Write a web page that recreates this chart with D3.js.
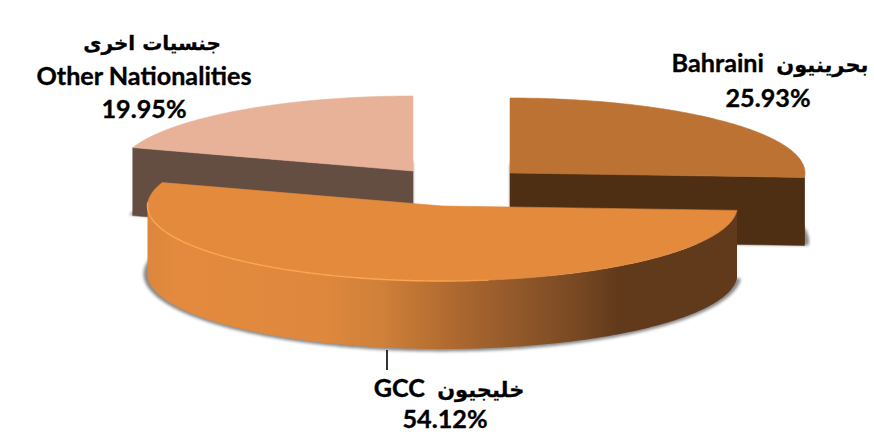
<!DOCTYPE html>
<html><head><meta charset="utf-8">
<style>html,body{margin:0;padding:0;background:#fff}svg{display:block}
text{font-weight:700;fill:#000;text-anchor:middle}
.lat{font-family:Lato,"Open Sans",sans-serif;font-size:25.2px;stroke:#000;stroke-width:0.35px}
.ar{font-family:"DejaVu Sans",sans-serif;font-size:21px;stroke:#000;stroke-width:0.3px}
.ar2{font-family:"DejaVu Sans",sans-serif;font-size:20px;stroke:#000;stroke-width:0.3px}
</style>
<script src="https://cdn.jsdelivr.net/npm/d3@7/dist/d3.min.js"></script>
</head><body><svg id="c" width="874" height="434"></svg>
<script>
const categories = ["Bahraini","GCC","Other Nationalities"];
const arabicNames = ["بحرينيون","خليجيون","جنسيات اخرى"];
const shares = [25.93,54.12,19.95];
const percentLabels = ["25.93%","54.12%","19.95%"];
const topColors = ["#BC7232","#E38A3E","#E8B299"];
const wallColors = ["#4F2F14","url(#gccWall)","#644E42"];

// layout
const W=874,H=434, RX=295, RY=75, DEPTH=68;
const centers=[[510,173],[442.5,206],[413,171]];
const drawOrder=[2,0,1];
const svg=d3.select("#c");
const defs=svg.append("defs");
defs.append("filter").attr("id","soft").attr("x","-5%").attr("y","-5%").attr("width","110%").attr("height","110%")
  .append("feGaussianBlur").attr("stdDeviation",1.6);
defs.append("filter").attr("id","edge").attr("x","-2%").attr("y","-2%").attr("width","104%").attr("height","104%")
  .append("feGaussianBlur").attr("stdDeviation",0.5);

const sx=d3.scaleLinear().domain([-1,1]);
const sy=d3.scaleLinear().domain([-1,1]);
function project(c,a,dz,grow){
  const gx=grow||0, gy=(grow||0)*0.6;
  sx.range([c[0]-RX-gx,c[0]+RX+gx]);
  sy.range([c[1]-RY-gy,c[1]+RY+gy]);
  return [sx(Math.sin(a)),sy(-Math.cos(a))+dz];
}
function arcPts(c,a0,a1,dz,grow){
  const n=Math.max(2,Math.ceil(Math.abs(a1-a0)/0.01));
  return d3.range(n+1).map(i=>project(c,a0+(a1-a0)*i/n,dz,grow));
}
const line=d3.line();
const pie=d3.pie().sort(null).value(d=>d)(shares);
const HALF=Math.PI/2, PI=Math.PI;

const g=defs.append("linearGradient").attr("id","gccWall").attr("gradientUnits","userSpaceOnUse")
  .attr("x1",147).attr("x2",737).attr("y1",0).attr("y2",0);
[[0,"#DB873D"],[0.05,"#E38A3E"],[0.3,"#DF883D"],[0.4,"#CF8039"],[0.47,"#BC7233"],[0.53,"#AB672F"],[0.65,"#8C5529"],[0.73,"#774822"],[0.8,"#613A1B"],[1,"#613A1B"]]
 .forEach(s=>g.append("stop").attr("offset",s[0]).attr("stop-color",s[1]));
const hl=defs.append("linearGradient").attr("id","gccRim").attr("gradientUnits","userSpaceOnUse")
  .attr("x1",147).attr("x2",560).attr("y1",0).attr("y2",0);
[[0,"#FCA651"],[0.65,"#FCA651"],[1,"#E38A3E"]].forEach(s=>hl.append("stop").attr("offset",s[0]).attr("stop-color",s[1]));

drawOrder.forEach(i=>{
  const p=pie[i], c=centers[i], a0=p.startAngle, a1=p.endAngle;
  // soft shadow: the base sector, slightly enlarged
  const apexBase=[c[0],c[1]+DEPTH];
  svg.append("path").attr("d",line([apexBase,...arcPts(c,a0,a1,DEPTH,4)])+"Z")
    .attr("fill","#8a8a8a").attr("filter","url(#soft)");
  const wall=svg.append("g");
  // visible cut faces
  const apexTop=[c[0],c[1]];
  const face=a=>{const e=project(c,a,0),b=project(c,a,DEPTH);
    wall.append("path").attr("d",line([apexTop,e,b,apexBase])+"Z").attr("fill",wallColors[i]).attr("stroke",wallColors[i]).attr("stroke-width",0.5);};
  if(Math.sin(a0)<-1e-6) face(a0);
  if(Math.sin(a1)>1e-6) face(a1);
  // visible outer wall (front half of the ellipse)
  const w0=Math.max(a0,HALF), w1=Math.min(a1,PI+HALF);
  if(w1>w0){
    wall.append("path").attr("d",line([...arcPts(c,w0,w1,0),...arcPts(c,w1,w0,DEPTH)])+"Z")
      .attr("fill",wallColors[i]);
  }
  // top face
  svg.append("path").attr("d",line([apexTop,...arcPts(c,a0,a1,0)])+"Z")
    .attr("fill",topColors[i]).attr("stroke",topColors[i]).attr("stroke-width",0.6).attr("filter","url(#edge)");
  if(i===1){
    svg.append("path").attr("d",line(arcPts(c,PI*0.95,PI+1.62,0)))
      .attr("fill","none").attr("stroke","url(#gccRim)").attr("stroke-width",1.4);
  }
});

// leader line for the GCC label
svg.append("line").attr("x1",387).attr("x2",387).attr("y1",350).attr("y2",370)
  .attr("stroke","#000").attr("stroke-width",1.6);

function mixed(x,y,lat,ar){
  const t=svg.append("text").attr("x",x).attr("y",y);
  t.append("tspan").attr("class","lat").text(lat);
  t.append("tspan").attr("class","lat").text("\u00A0\u00A0");
  t.append("tspan").attr("class","ar").text(ar);
}
function plain(x,y,s,cls){svg.append("text").attr("class",cls).attr("x",x).attr("y",y).text(s);}
mixed(770,72,categories[0],arabicNames[0]);
plain(768,107,percentLabels[0],"lat");
mixed(449,397,categories[1],arabicNames[1]);
plain(445,428,percentLabels[1],"lat");
plain(152,50,arabicNames[2],"ar2");
plain(144,85,categories[2],"lat");
plain(144,118,percentLabels[2],"lat");
</script></body></html>
